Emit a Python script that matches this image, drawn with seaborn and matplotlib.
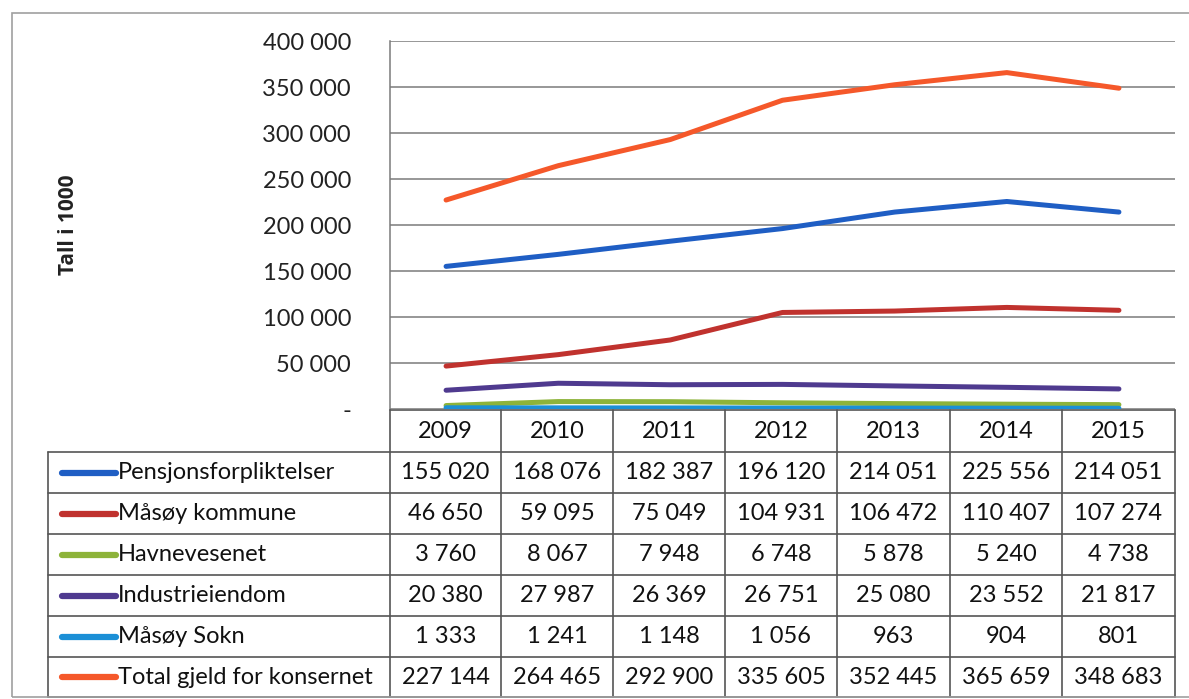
import matplotlib
matplotlib.use("Agg")
import matplotlib.pyplot as plt
import seaborn as sns
import pandas as pd
import numpy as np

years = ["2009", "2010", "2011", "2012", "2013", "2014", "2015"]
series_names = ["Pensjonsforpliktelser", "Måsøy kommune", "Havnevesenet",
                "Industrieiendom", "Måsøy Sokn", "Total gjeld for konsernet"]
pensjon = [155020, 168076, 182387, 196120, 214051, 225556, 214051]
kommune = [46650, 59095, 75049, 104931, 106472, 110407, 107274]
havn = [3760, 8067, 7948, 6748, 5878, 5240, 4738]
industri = [20380, 27987, 26369, 26751, 25080, 23552, 21817]
sokn = [1333, 1241, 1148, 1056, 963, 904, 801]
total = [227144, 264465, 292900, 335605, 352445, 365659, 348683]
yticks = [0, 50000, 100000, 150000, 200000, 250000, 300000, 350000, 400000]
ytick_labels = ["-", "50 000", "100 000", "150 000", "200 000", "250 000",
                "300 000", "350 000", "400 000"]
colors = ["#1f5ec4", "#c0322e", "#8db33a", "#4f3a8f", "#1b8fd6", "#f5582a"]

values = [pensjon, kommune, havn, industri, sokn, total]
rows = []
for name, vals in zip(series_names, values):
    for i, v in enumerate(vals):
        rows.append({"idx": i, "value": v, "serie": name})
df = pd.DataFrame(rows)

def fmt(v):
    return f"{v:,}".replace(",", " ")

sns.set_style("white")
plt.rcParams['font.family'] = ['Lato', 'DejaVu Sans']
FS = 17

W, H = 1189, 699
fig = plt.figure(figsize=(W / 100, H / 100), dpi=100)

def fx(px):
    return px / W

def fy(py):
    return 1 - py / H

# outer chart border
border = plt.Rectangle((fx(12), fy(697)), fx(1195) - fx(12), fy(13) - fy(697),
                       transform=fig.transFigure, fill=False, ec="#a0a0a0", lw=1.2)
fig.add_artist(border)

left, right, top, bottom = 390, 1175, 41, 409
ax = fig.add_axes([fx(left), fy(bottom), fx(right) - fx(left), fy(top) - fy(bottom)])
sns.lineplot(data=df, x="idx", y="value", hue="serie", hue_order=series_names,
             palette=colors, linewidth=3.6, legend=False, ax=ax)
ax.set_xlim(-0.5, len(years) - 0.5)
ax.set_ylim(0, 400000)
ax.set_yticks(yticks)
ax.set_yticklabels(ytick_labels, fontsize=FS, color="#222222")
ax.set_xticks([])
ax.set_xlabel("")
ax.set_ylabel("Tall i 1000", fontsize=15, fontweight="bold", color="#222222",
              family=["Open Sans", "DejaVu Sans"])
ax.yaxis.set_label_coords((79 - left) / (right - left), 0.5)
ax.yaxis.grid(True, color="#7a7a7a", lw=1.1)
ax.set_axisbelow(True)
for s in ["top", "right", "bottom"]:
    ax.spines[s].set_visible(False)
ax.spines["left"].set_color("#7a7a7a")
ax.spines["left"].set_linewidth(1.1)
ax.tick_params(axis="y", length=0, pad=28)

# data table
col_edges = [390, 501, 613, 725, 837, 950, 1062, 1175]
row_edges = [410, 452, 493, 534, 575, 616, 657, 697]
legend_left = 48
lc = "#555555"
tab = fig.add_axes([0, 0, 1, 1])
tab.set_xlim(0, W)
tab.set_ylim(H, 0)
tab.axis("off")
for x in col_edges:
    tab.plot([x, x], [row_edges[0], row_edges[-1]], color=lc, lw=1.2)
tab.plot([legend_left, legend_left], [row_edges[1], row_edges[-1]], color=lc, lw=1.2)
for j, y in enumerate(row_edges):
    x0 = legend_left if j >= 1 else col_edges[0]
    tab.plot([x0, col_edges[-1]], [y, y], color=lc, lw=1.2)
for i, yr in enumerate(years):
    cx = (col_edges[i] + col_edges[i + 1]) / 2
    cy = (row_edges[0] + row_edges[1]) / 2
    tab.text(cx, cy, yr, ha="center", va="center", fontsize=FS, color="#111111")
for r, (name, vals, c) in enumerate(zip(series_names, values, colors)):
    cy = (row_edges[r + 1] + row_edges[r + 2]) / 2
    tab.plot([legend_left + 14, legend_left + 68], [cy, cy], color=c, lw=4.5,
             solid_capstyle="round")
    tab.text(legend_left + 70, cy, name, ha="left", va="center", fontsize=FS, color="#111111")
    for i, v in enumerate(vals):
        cx = (col_edges[i] + col_edges[i + 1]) / 2
        tab.text(cx, cy, fmt(v), ha="center", va="center", fontsize=FS, color="#111111")

fig.savefig("out.png", dpi=100, facecolor="white")
